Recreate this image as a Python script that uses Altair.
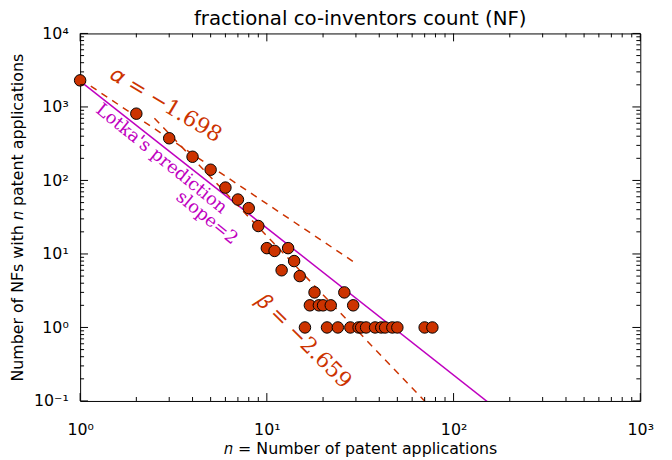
import altair as alt
import pandas as pd
import numpy as np

# ---- data ----
n_values = [1, 2, 3, 4, 5, 6, 7, 8, 9, 10, 11, 12, 13, 14, 15, 16, 17, 18, 19, 20,
            21, 22, 24, 26, 28, 29, 31, 32, 34, 38, 41, 43, 47, 50, 70, 77]
nf_counts = [2300, 810, 375, 210, 140, 80, 55, 42, 24, 12, 11, 6, 12, 8, 5, 1, 2, 3, 2, 2,
             1, 2, 1, 3, 1, 2, 1, 1, 1, 1, 1, 1, 1, 1, 1, 1]

# fitted / reference lines: (n range, prefactor, exponent)
lotka_n = [1, 200]
lotka_c, lotka_exp = 2250, -2.0
alpha_n = [1, 29.6]
alpha_c, alpha_exp = 2400, -1.698
beta_n = [2.5, 100]
beta_c, beta_exp = 8020, -2.659

x_major = [1, 10, 100, 1000]
y_major = [0.1, 1, 10, 100, 1000, 10000]
x_minor = [m * d for d in [1, 10, 100] for m in range(2, 10)]
y_minor = [m * d for d in [0.1, 1, 10, 100, 1000] for m in range(2, 10)]

title_text = ["fractional co-inventors count (NF)"]

# annotation anchors (data units) and texts
ann_text = ["𝛼 = −1.698", "Lotka's prediction", "slope=2", "𝛽 = −2.659"]
ann_n = [2.89, 2.72, 4.76, 15.8]
ann_y = [1077, 196, 30.7, 0.66]
ann_angle = [31, 39, 39, 45]
ann_color = ["#cc3300", "#bf00bf", "#bf00bf", "#cc3300"]
ann_size = [22, 18, 18, 22]

W, H = 567, 372
RED = "#cc3300"
MAG = "#bf00bf"

pts = pd.DataFrame({"n": n_values, "c": nf_counts})


def line_df(ns, c, e):
    return pd.DataFrame({"n": ns, "c": [c * v ** e for v in ns]})


xs = alt.Scale(type="log", domain=[1, 1000], nice=False)
ys = alt.Scale(type="log", domain=[0.1, 10000], nice=False)

sup = "['⁻¹','⁰','¹','²','³','⁴'][round(log(datum.value)/LN10)+1]"
x_axis = alt.Axis(values=x_major, labelExpr="'10' + " + sup, ticks=False, domain=False,
                  grid=False, labelFlush=False, labelPadding=21, titlePadding=3,
                  title="𝑛 = Number of patent applications")
y_axis = alt.Axis(values=y_major, labelExpr="'10' + " + sup, ticks=False, domain=False,
                  grid=False, labelFlush=False, labelPadding=12, titlePadding=8,
                  title="Number of NFs with 𝑛 patent applications")

X = alt.X("n:Q", scale=xs, axis=x_axis)
Y = alt.Y("c:Q", scale=ys, axis=y_axis)

lotka = alt.Chart(line_df(lotka_n, lotka_c, lotka_exp)).mark_line(
    color=MAG, strokeWidth=1.5, clip=True).encode(x=X, y=Y)
alpha = alt.Chart(line_df(alpha_n, alpha_c, alpha_exp)).mark_line(
    color=RED, strokeWidth=1.5, strokeDash=[7, 6], clip=True).encode(x=X, y=Y)
beta = alt.Chart(line_df(beta_n, beta_c, beta_exp)).mark_line(
    color=RED, strokeWidth=1.5, strokeDash=[7, 6], clip=True).encode(x=X, y=Y)

points = alt.Chart(pts).mark_circle(
    size=135, color=RED, opacity=1, stroke="black", strokeWidth=1).encode(x=X, y=Y)

ann = pd.DataFrame({"t": ann_text, "n": ann_n, "c": ann_y})
texts = []
for i in range(len(ann_text)):
    texts.append(alt.Chart(ann.iloc[[i]]).mark_text(
        font="DejaVu Serif", fontSize=ann_size[i], angle=ann_angle[i],
        color=ann_color[i], align="center", baseline="middle").encode(
        x=X, y=Y, text="t:N"))

title_layer = alt.Chart(pd.DataFrame({"t": title_text})).mark_text(
    font="DejaVu Sans", fontSize=20, color="black", align="center",
    baseline="alphabetic").encode(x=alt.value(W / 2), y=alt.value(-8.5), text="t:N")


def xticks(vals, length):
    df = pd.DataFrame({"n": vals})
    b = alt.Chart(df).mark_rule(color="black", strokeWidth=1).encode(
        x=X, y=alt.value(H), y2=alt.value(H - length))
    t = alt.Chart(df).mark_rule(color="black", strokeWidth=1).encode(
        x=X, y=alt.value(0), y2=alt.value(length))
    return [b, t]


def yticks(vals, length):
    df = pd.DataFrame({"c": vals})
    l = alt.Chart(df).mark_rule(color="black", strokeWidth=1).encode(
        y=Y, x=alt.value(0), x2=alt.value(length))
    r = alt.Chart(df).mark_rule(color="black", strokeWidth=1).encode(
        y=Y, x=alt.value(W), x2=alt.value(W - length))
    return [l, r]


tick_layers = xticks(x_major, 8) + xticks(x_minor, 4) + yticks(y_major, 8) + yticks(y_minor, 4)

chart = alt.layer(lotka, alpha, beta, points, *texts, title_layer, *tick_layers).properties(
    width=W, height=H,
    autosize=alt.AutoSizeParams(type="none"),
    padding={"left": 73, "top": 23, "right": 24, "bottom": 57},
).configure_view(stroke="black", strokeWidth=1).configure_axis(
    labelFont="DejaVu Sans", labelFontSize=16, labelColor="black",
    titleFont="DejaVu Sans", titleFontSize=16, titleFontWeight="normal", titleColor="black",
)

chart.save("out.html", embed_options={"renderer": "svg", "actions": False})
